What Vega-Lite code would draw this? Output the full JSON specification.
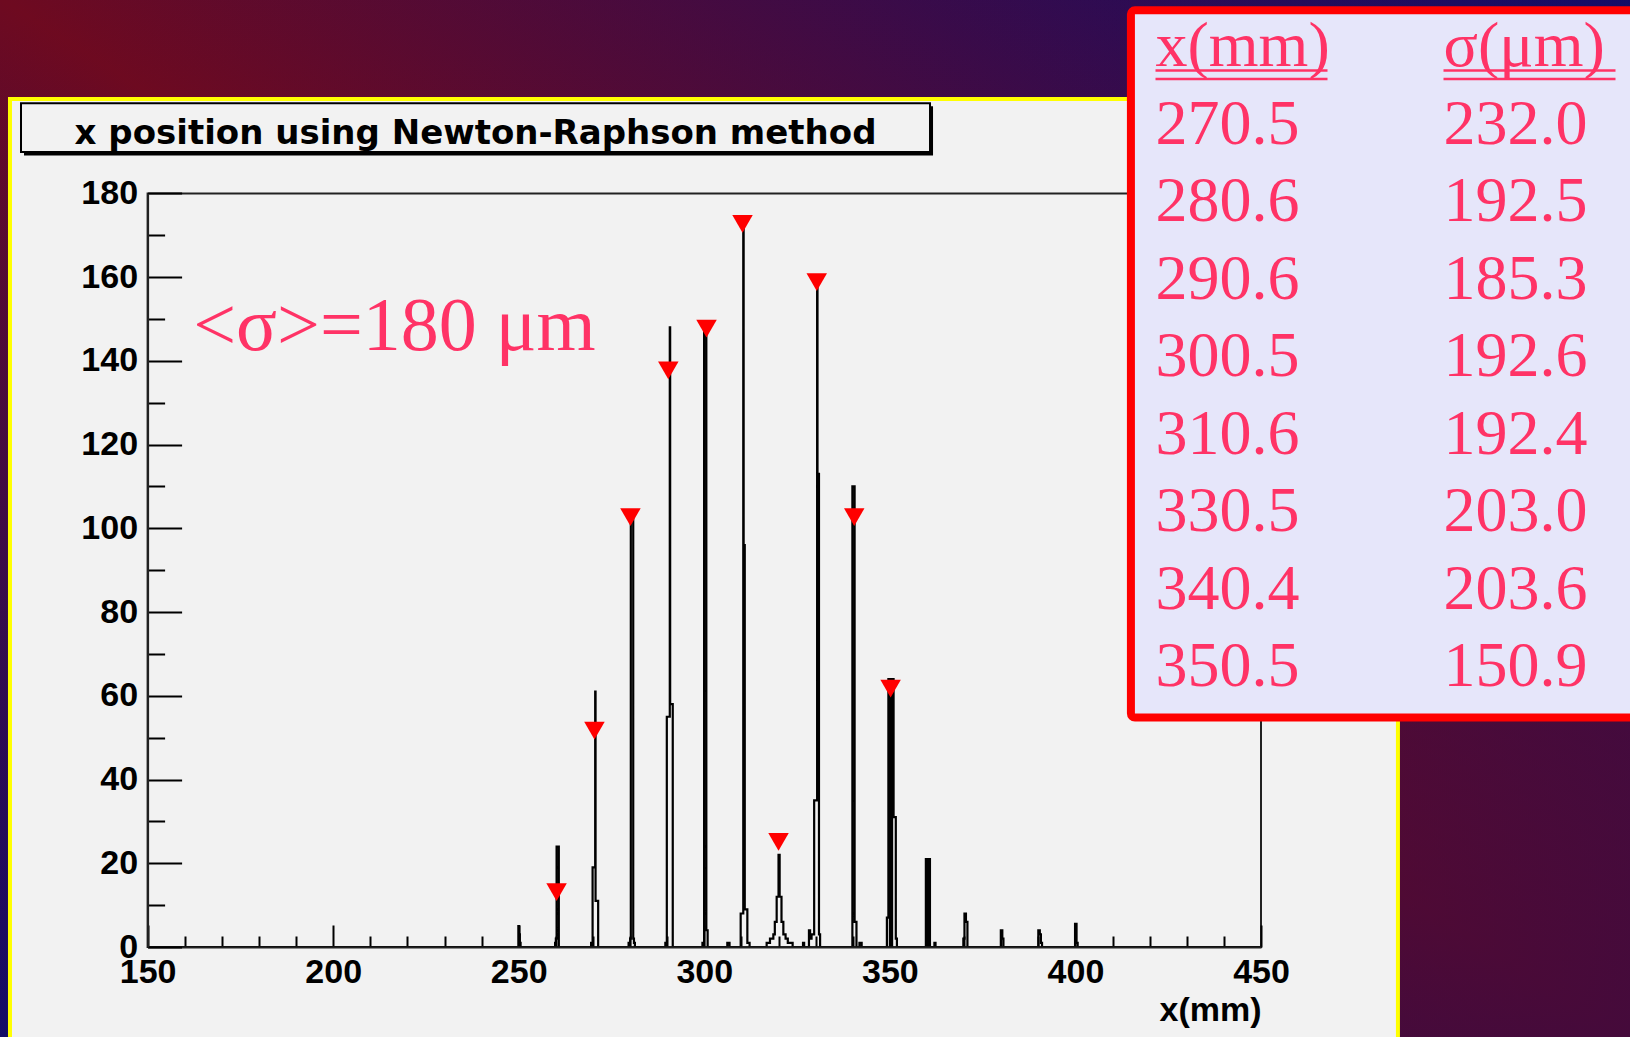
{
  "$schema": "https://vega.github.io/schema/vega-lite/v6.json",
  "width": 1388,
  "height": 938,
  "autosize": {"type": "none"},
  "padding": {"left": 10, "top": 99, "right": 232, "bottom": 0},
  "background": "#3e0a46",
  "config": {"view": {"fill": null, "stroke": null}},
  "datasets": {
    "hist": [
      {"x": 150, "n": 0},
      {"x": 249.9, "n": 5}, {"x": 250.1, "n": 3}, {"x": 250.3, "n": 1}, {"x": 250.5, "n": 0},
      {"x": 259.8, "n": 1}, {"x": 260.0, "n": 2}, {"x": 260.2, "n": 24}, {"x": 260.8, "n": 0},
      {"x": 269.5, "n": 1}, {"x": 269.7, "n": 0}, {"x": 269.9, "n": 19}, {"x": 270.6, "n": 61}, {"x": 270.7, "n": 11}, {"x": 271.4, "n": 0},
      {"x": 279.6, "n": 1}, {"x": 279.8, "n": 0}, {"x": 280.0, "n": 2}, {"x": 280.2, "n": 103}, {"x": 280.85, "n": 2}, {"x": 281.05, "n": 1}, {"x": 281.3, "n": 0},
      {"x": 289.5, "n": 1}, {"x": 289.7, "n": 0}, {"x": 289.9, "n": 55}, {"x": 290.7, "n": 148}, {"x": 290.8, "n": 58}, {"x": 291.5, "n": 0},
      {"x": 299.5, "n": 1}, {"x": 299.7, "n": 0}, {"x": 299.95, "n": 147}, {"x": 300.55, "n": 4}, {"x": 300.9, "n": 0},
      {"x": 306.2, "n": 1}, {"x": 306.8, "n": 0},
      {"x": 309.8, "n": 8}, {"x": 310.5, "n": 174}, {"x": 310.6, "n": 96}, {"x": 310.9, "n": 9}, {"x": 311.6, "n": 1}, {"x": 312.2, "n": 0},
      {"x": 316.8, "n": 1}, {"x": 317.7, "n": 2}, {"x": 318.6, "n": 3}, {"x": 319.0, "n": 6}, {"x": 319.5, "n": 12}, {"x": 320.0, "n": 22}, {"x": 320.3, "n": 12}, {"x": 320.8, "n": 6}, {"x": 321.3, "n": 3}, {"x": 321.9, "n": 2}, {"x": 322.5, "n": 1}, {"x": 323.8, "n": 0},
      {"x": 326.6, "n": 1}, {"x": 326.9, "n": 0}, {"x": 328.2, "n": 4}, {"x": 328.5, "n": 2}, {"x": 328.9, "n": 3}, {"x": 329.6, "n": 35}, {"x": 330.4, "n": 160}, {"x": 330.5, "n": 113}, {"x": 330.9, "n": 3}, {"x": 331.2, "n": 0},
      {"x": 339.9, "n": 110}, {"x": 340.5, "n": 6}, {"x": 341.0, "n": 0}, {"x": 341.8, "n": 1}, {"x": 342.4, "n": 0},
      {"x": 349.2, "n": 7}, {"x": 349.6, "n": 64}, {"x": 350.0, "n": 0}, {"x": 350.1, "n": 64}, {"x": 350.5, "n": 0}, {"x": 350.6, "n": 64}, {"x": 351.0, "n": 31}, {"x": 351.6, "n": 2}, {"x": 351.9, "n": 0},
      {"x": 359.7, "n": 21}, {"x": 360.2, "n": 0}, {"x": 360.3, "n": 21}, {"x": 360.8, "n": 0}, {"x": 362.0, "n": 1}, {"x": 362.3, "n": 0},
      {"x": 369.8, "n": 2}, {"x": 370.1, "n": 8}, {"x": 370.5, "n": 6}, {"x": 370.9, "n": 0},
      {"x": 379.9, "n": 4}, {"x": 380.3, "n": 2}, {"x": 380.6, "n": 0},
      {"x": 390.0, "n": 4}, {"x": 390.4, "n": 3}, {"x": 390.7, "n": 1}, {"x": 391.0, "n": 0},
      {"x": 399.9, "n": 5.5}, {"x": 400.3, "n": 1}, {"x": 400.6, "n": 0},
      {"x": 450, "n": 0}
    ],
    "peaks": [
      {"x": 260.2, "n": 13.1}, {"x": 270.4, "n": 51.7}, {"x": 280.1, "n": 102.7}, {"x": 290.3, "n": 137.7},
      {"x": 300.6, "n": 147.7}, {"x": 310.3, "n": 172.7}, {"x": 320.0, "n": 25.1}, {"x": 330.3, "n": 158.8},
      {"x": 340.4, "n": 102.7}, {"x": 350.2, "n": 61.7}
    ],
    "table": [
      {"x": "x(mm)", "s": "σ(μm)"},
      {"x": "270.5", "s": "232.0"},
      {"x": "280.6", "s": "192.5"},
      {"x": "290.6", "s": "185.3"},
      {"x": "300.5", "s": "192.6"},
      {"x": "310.6", "s": "192.4"},
      {"x": "330.5", "s": "203.0"},
      {"x": "340.4", "s": "203.6"},
      {"x": "350.5", "s": "150.9"}
    ]
  },
  "layer": [
    {
      "layer": [
        {
          "data": {"values": [{}]},
          "mark": {
            "type": "rect",
            "fill": {"gradient": "linear", "x1": 1, "y1": 0, "x2": 0, "y2": 1,
              "stops": [{"offset": 0, "color": "#0e0c6c"}, {"offset": 0.5, "color": "#6e0a20"}, {"offset": 1, "color": "#0e0c6c"}]}
          },
          "encoding": {"x": {"datum": 108.9}, "x2": {"datum": 552.1}, "y": {"datum": 227.4}, "y2": {"datum": -23.4}}
        },
        {
          "data": {"values": [{}]},
          "mark": {
            "type": "rect",
            "fill": {"gradient": "linear", "x1": 0, "y1": 0, "x2": 1, "y2": 1,
              "stops": [{"offset": 0, "color": "rgba(58,10,66,0)"}, {"offset": 0.5, "color": "rgba(58,10,66,0.1)"}, {"offset": 1, "color": "rgba(58,10,66,0.8)"}]}
          },
          "encoding": {"x": {"datum": 108.9}, "x2": {"datum": 552.1}, "y": {"datum": 227.4}, "y2": {"datum": -23.4}}
        },
        {
          "data": {"values": [{}]},
          "mark": {"type": "rect", "fill": "#f2f2f2", "stroke": "#ffff00", "strokeWidth": 4},
          "encoding": {"x": {"datum": 112.92}, "x2": {"datum": 486.9}, "y": {"datum": 202.55}, "y2": {"datum": -23.4}}
        },
        {
          "data": {"values": [{}]},
          "mark": {"type": "rect", "filled": false, "stroke": "#222222", "strokeWidth": 2},
          "encoding": {"x": {"datum": 150}, "x2": {"datum": 450}, "y": {"datum": 0}, "y2": {"datum": 180}}
        },
        {
          "data": {"name": "hist"},
          "mark": {"type": "line", "interpolate": "step-after", "color": "#000000", "strokeWidth": 2.2},
          "encoding": {
            "x": {
              "field": "x", "type": "quantitative",
              "scale": {"domain": [150, 450], "range": [137.6, 1251], "nice": false, "zero": false},
              "axis": {
                "values": [150,160,170,180,190,200,210,220,230,240,250,260,270,280,290,300,310,320,330,340,350,360,370,380,390,400,410,420,430,440,450],
                "labelExpr": "datum.value % 50 === 0 ? datum.label : ''",
                "tickSize": {"condition": {"test": "datum.value % 50 === 0", "value": -22}, "value": -11},
                "tickWidth": 2, "tickColor": "#000000", "domainColor": "#222222", "domainWidth": 2,
                "labelFont": "Liberation Sans", "labelFontWeight": "bold", "labelFontSize": 34, "labelColor": "#000000",
                "labelPadding": 30, "labelFlush": false, "labelOverlap": false, "labelBound": false,
                "title": "x(mm)", "titleFont": "Liberation Sans", "titleFontWeight": "bold", "titleFontSize": 34,
                "titleColor": "#000000", "titleAnchor": "end", "titlePadding": -7,
                "offset": -90, "grid": false, "zindex": 1
              }
            },
            "y": {
              "field": "n", "type": "quantitative",
              "scale": {"domain": [0, 180], "range": [848, 94.4], "nice": false},
              "axis": {
                "values": [0,5,10,15,20,25,30,35,40,45,50,55,60,65,70,75,80,85,90,95,100,105,110,115,120,125,130,135,140,145,150,155,160,165,170,175,180],
                "labelExpr": "datum.value % 20 === 0 ? datum.label : ''",
                "tickSize": {"condition": {"test": "datum.value % 20 === 0", "value": -34}, "value": -17},
                "tickWidth": 2, "tickColor": "#000000", "domainColor": "#222222", "domainWidth": 2,
                "labelFont": "Liberation Sans", "labelFontWeight": "bold", "labelFontSize": 34, "labelColor": "#000000",
                "labelPadding": 44, "labelOverlap": false, "labelBound": false, "labelFlush": false,
                "title": null, "offset": -137.6, "grid": false, "zindex": 1
              }
            }
          }
        },
        {
          "data": {"name": "peaks"},
          "mark": {"type": "point", "shape": "triangle-down", "filled": true, "color": "#ff0000", "size": 420, "opacity": 1, "strokeWidth": 0},
          "encoding": {
            "x": {"field": "x", "type": "quantitative", "title": "x(mm)"},
            "y": {"field": "n", "type": "quantitative", "title": null}
          }
        },
        {
          "data": {"values": [{}]},
          "mark": {"type": "text", "font": "Liberation Serif", "fontSize": 76, "color": "#ff3366", "align": "left", "baseline": "alphabetic", "text": "<σ>=180 μm"},
          "encoding": {"x": {"datum": 162.3}, "y": {"datum": 142.6}}
        },
        {
          "data": {"values": [{}]},
          "mark": {"type": "rect", "color": "#000000"},
          "encoding": {"x": {"datum": 116.7}, "x2": {"datum": 361.63}, "y": {"datum": 200.8}, "y2": {"datum": 189.05}}
        },
        {
          "data": {"values": [{}]},
          "mark": {"type": "rect", "fill": "#f2f2f2", "stroke": "#000000", "strokeWidth": 2},
          "encoding": {"x": {"datum": 115.89}, "x2": {"datum": 360.82}, "y": {"datum": 201.52}, "y2": {"datum": 189.91}}
        },
        {
          "data": {"values": [{}]},
          "mark": {"type": "text", "font": "DejaVu Sans", "fontWeight": "bold", "fontSize": 34, "color": "#000000", "align": "center", "baseline": "alphabetic", "text": "x position using Newton-Raphson method"},
          "encoding": {"x": {"datum": 238.36}, "y": {"datum": 191.8}}
        },
        {
          "data": {"values": [{}]},
          "mark": {"type": "rect", "fill": "#e6e6fa", "stroke": "#ff0000", "strokeWidth": 8, "cornerRadius": 4},
          "encoding": {"x": {"datum": 414.95}, "x2": {"datum": 552.1}, "y": {"datum": 223.73}, "y2": {"datum": 54.82}}
        }
      ]
    },
    {
      "data": {"name": "table"},
      "transform": [{"fold": ["x", "s"], "as": ["col", "val"]}],
      "layer": [
        {
          "mark": {"type": "text", "font": "Liberation Serif", "fontSize": 64, "color": "#ff3366", "align": "left", "baseline": "alphabetic"},
          "encoding": {
            "x": {"field": "col", "type": "nominal", "scale": {"type": "point", "domain": ["x", "s"], "range": [1145.5, 1433.5], "padding": 0}, "axis": null},
            "y": {"field": "x", "type": "ordinal", "scale": {"type": "point", "domain": ["x(mm)", "270.5", "280.6", "290.6", "300.5", "310.6", "330.5", "340.4", "350.5"], "range": [-33, 587], "padding": 0}, "axis": null},
            "text": {"field": "val"}
          }
        },
        {
          "transform": [{"filter": "datum.x === 'x(mm)'"}],
          "mark": {"type": "rule", "color": "#ff3366", "strokeWidth": 2.5, "x2Offset": 172, "yOffset": 4.5},
          "encoding": {
            "x": {"field": "col", "type": "nominal"},
            "x2": {"field": "col"},
            "y": {"field": "x", "type": "ordinal"}
          }
        },
        {
          "transform": [{"filter": "datum.x === 'x(mm)'"}],
          "mark": {"type": "rule", "color": "#ff3366", "strokeWidth": 2.5, "x2Offset": 172, "yOffset": 13},
          "encoding": {
            "x": {"field": "col", "type": "nominal"},
            "x2": {"field": "col"},
            "y": {"field": "x", "type": "ordinal"}
          }
        }
      ]
    }
  ],
  "resolve": {"scale": {"x": "independent", "y": "independent"}}
}
